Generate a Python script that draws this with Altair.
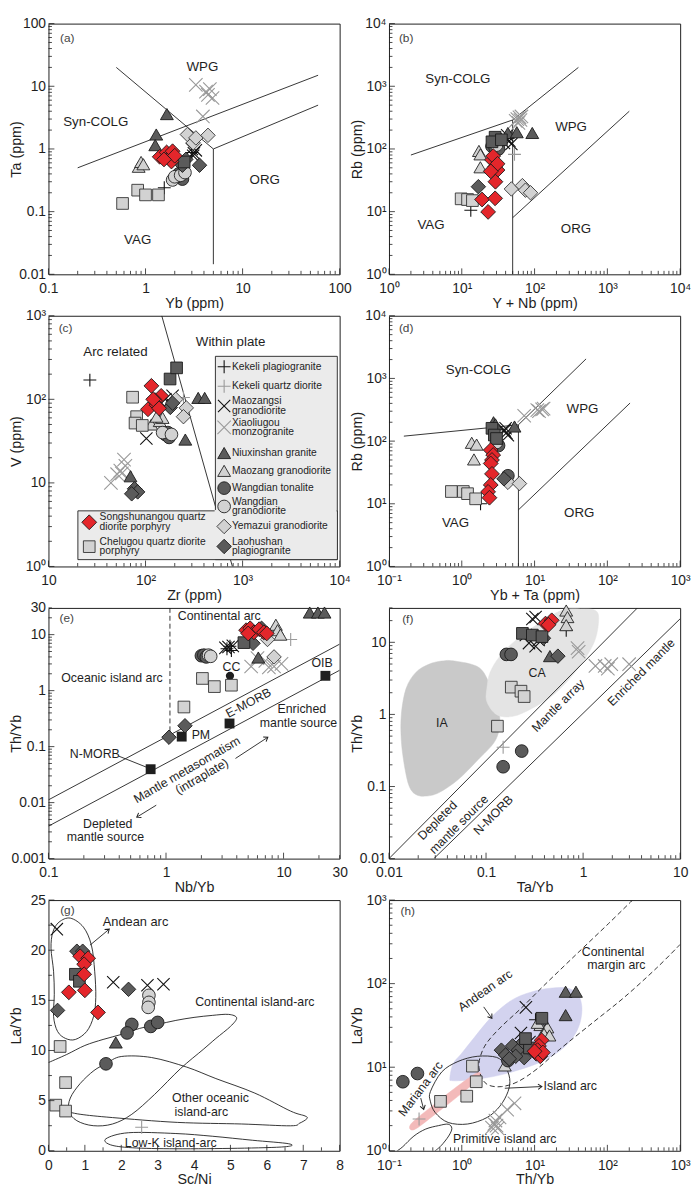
import math
import altair as alt
import pandas as pd

W, H = 295, 254
FONT = "Liberation Sans"
INK = "#1e1e1e"

# ---------------------------------------------------------------- symbol styles
PLUS = "M-1,0L1,0M0,-1L0,1"
TIMES = "M-1,-1L1,1M-1,1L1,-1"
CHEV = "M-1,-0.7L0,0L-1,0.7"
DARK, LIGHT, RED = "#5b5b5b", "#d2d2d2", "#e4262b"
# shape, fill, stroke, size, strokeWidth
STYLE = {
    "KP": (PLUS, "transparent", "#111111", 170, 1.1),
    "KQ": (PLUS, "transparent", "#9a9a9a", 170, 1.1),
    "MZS": (TIMES, "transparent", "#111111", 155, 1.1),
    "XLG": (TIMES, "transparent", "#999999", 185, 1.1),
    "NXS": ("triangle-up", DARK, "#1a1a1a", 170, 0.9),
    "MZ": ("triangle-up", LIGHT, "#222222", 170, 0.9),
    "WT": ("circle", DARK, "#1a1a1a", 165, 0.9),
    "WG": ("circle", LIGHT, "#222222", 165, 0.9),
    "YMZ": ("diamond", LIGHT, "#333333", 215, 0.9),
    "LHS": ("diamond", DARK, "#1a1a1a", 215, 0.9),
    "DSQ": ("square", DARK, "#1a1a1a", 140, 0.9),
    "CLG": ("square", LIGHT, "#333333", 140, 0.9),
    "SSN": ("diamond", RED, "#1a1a1a", 225, 0.9),
}
DRAW_ORDER = ["KP", "KQ", "MZS", "XLG", "NXS", "MZ", "WT", "WG", "YMZ", "LHS", "DSQ", "CLG", "SSN"]

# ---------------------------------------------------------------- (a) Ta vs Yb
A_PTS = {
    "KP": [(1.56, 0.24), (3.0, 0.88)],
    "MZS": [(3.0, 1.0), (3.15, 0.85), (3.3, 0.95), (3.1, 0.78)],
    "XLG": [(3.3, 10.5), (4.2, 8.2), (4.6, 9.0), (4.9, 6.5), (4.4, 7.3), (3.9, 3.3)],
    "NXS": [(1.66, 3.6), (1.29, 1.7), (1.26, 1.15)],
    "MZ": [(0.85, 0.52), (0.9, 0.62), (0.95, 0.57)],
    "WT": [(2.2, 0.40), (2.4, 0.33), (2.1, 0.36)],
    "WG": [(1.9, 0.32), (2.0, 0.36), (2.3, 0.38), (2.55, 0.42)],
    "YMZ": [(2.7, 1.7), (3.1, 1.25), (3.3, 1.5), (4.4, 1.65)],
    "LHS": [(2.4, 0.55), (3.6, 0.55), (2.6, 0.68)],
    "DSQ": [(2.5, 0.62)],
    "CLG": [(0.58, 0.135), (0.83, 0.22), (1.0, 0.185), (1.36, 0.185)],
    "SSN": [(1.4, 0.75), (1.65, 0.88), (1.75, 0.7), (1.85, 0.63), (1.9, 0.92), (2.0, 0.78), (1.55, 0.68)],
}
A_LINES = [[(0.5, 20), (5, 1)], [(5, 1), (5, 0.0145)], [(0.2, 0.5), (60, 15)], [(5, 1), (60, 5)]]
A_TEXT = [(3.86, 20, "WPG"), (0.307, 2.66, "Syn-COLG"), (16.9, 0.32, "ORG"), (0.83, 0.035, "VAG")]
A_TAG = [(0.156, 59, "(a)")]

# ---------------------------------------------------------------- (b) Rb vs Y+Nb
B_PTS = {
    "KP": [(13.3, 10.5)],
    "KQ": [(53, 82)],
    "MZS": [(40, 150), (45, 135), (48, 120), (42, 165), (38, 125)],
    "XLG": [(55, 280), (58, 300), (62, 320), (66, 330), (60, 260), (64, 290)],
    "NXS": [(43, 180), (57, 185), (93, 180)],
    "MZ": [(17.2, 93), (18, 82), (18, 51)],
    "WT": [(26, 110), (28.7, 105), (32, 100)],
    "WG": [(30, 115)],
    "YMZ": [(48, 23), (68, 26), (75, 22), (88, 20)],
    "LHS": [(16.9, 25)],
    "DSQ": [(28.7, 154), (26, 130), (35, 140)],
    "CLG": [(9.8, 16), (12, 15.6), (14, 15)],
    "SSN": [(26, 67), (28.7, 52), (31, 46), (27, 77), (31, 58), (29, 30), (19, 15.6), (28.7, 16.3), (23, 9.9), (25, 44)],
}
B_LINES = [[(2, 80), (50, 290), (400, 2000)], [(50, 1), (50, 290)], [(50, 8), (2000, 400)]]
B_TEXT = [(8.85, 1285, "Syn-COLG"), (317, 220, "WPG"), (3.78, 6.2, "VAG"), (370, 5.2, "ORG")]
B_TAG = [(1.72, 5900, "(b)")]

# ---------------------------------------------------------------- (c) V vs Zr
C_PTS = {
    "KP": [(26.7, 170)],
    "KQ": [(246, 105)],
    "MZS": [(102, 34), (160, 100), (175, 95), (190, 110)],
    "XLG": [(44, 10), (60, 19), (55, 14), (62, 16), (51, 12.7), (57, 13)],
    "NXS": [(349, 104), (407, 104), (257, 33), (70, 12)],
    "MZ": [(115, 50), (140, 55), (150, 60), (130, 62)],
    "WT": [(160, 38), (175, 35), (170, 40)],
    "WG": [(150, 40), (185, 38)],
    "YMZ": [(263, 79), (246, 62), (205, 100)],
    "LHS": [(77, 8.5), (83, 7.8), (72, 7.4), (180, 80), (190, 90)],
    "DSQ": [(179, 175), (209, 238)],
    "CLG": [(73.6, 106), (81, 62), (78, 52), (92.6, 48.7)],
    "SSN": [(115, 145), (145, 110), (106, 76), (130, 85), (125, 98), (138, 78), (120, 100)],
}
C_LINES = [[(147, 1000), (785, 1)]]
C_TEXT = [(49, 366, "Arc related"), (753, 479, "Within plate")]
C_TAG = [(15, 718, "(c)")]
# legend entries: series, symbol y, [(line text, y)]  (reference-pixel layout inside panel c)
LEG_RIGHT = [
    ("KP", 52.3, [("Kekeli plagiogranite", 52.3)]),
    ("KQ", 72.3, [("Kekeli quartz diorite", 72.3)]),
    ("MZS", 92.5, [("Maozangsi", 87.5), ("granodiorite", 97.5)]),
    ("XLG", 114.5, [("Xiaoliugou", 109.5), ("monzogranite", 119.5)]),
    ("NXS", 140.7, [("Niuxinshan granite", 140.7)]),
    ("MZ", 159.0, [("Maozang granodiorite", 159.0)]),
    ("WT", 176.7, [("Wangdian tonalite", 176.7)]),
    ("WG", 195.5, [("Wangdian", 190.5), ("granodiorite", 200.5)]),
    ("YMZ", 216.0, [("Yemazui granodiorite", 216.0)]),
    ("LHS", 236.5, [("Laohushan", 231.5), ("plagiogranite", 241.5)]),
]
LEG_LEFT = [
    ("SSN", 211.7, [("Songshunangou quartz", 206.7), ("diorite porphyry", 216.7)]),
    ("CLG", 236.7, [("Chelugou quartz diorite", 231.7), ("porphyry", 241.7)]),
]

# ---------------------------------------------------------------- (d) Rb vs Yb+Ta
D_PTS = {
    "KP": [(1.81, 10)],
    "MZS": [(3.9, 148), (4.1, 135), (4.3, 124), (4.0, 160)],
    "XLG": [(7.2, 254), (10.9, 312), (12.7, 320), (13.3, 330), (11.5, 300)],
    "NXS": [(2.73, 200), (5.3, 171), (2.9, 185)],
    "MZ": [(1.37, 94), (1.6, 88), (1.47, 51)],
    "WT": [(3.2, 85), (4.3, 28)],
    "WG": [(3.0, 95)],
    "YMZ": [(4.3, 22), (6.2, 21)],
    "LHS": [(3.8, 25)],
    "DSQ": [(2.6, 160), (2.8, 125), (3.0, 110)],
    "CLG": [(0.72, 15.7), (1.05, 15.7), (1.2, 14.5), (1.55, 12)],
    "SSN": [(2.5, 72), (2.7, 60), (2.6, 50), (2.5, 44), (2.6, 30), (2.5, 20), (2.3, 15.5), (2.4, 12.5)],
}
D_LINES = [[(0.16, 120), (6, 182), (51, 2050)], [(6, 1), (6, 182)], [(6, 8), (205, 405)]]
D_TEXT = [(1.69, 1350, "Syn-COLG"), (45.5, 324, "WPG"), (0.82, 4.9, "VAG"), (41, 7, "ORG")]
D_TAG = [(0.172, 6400, "(d)")]

# ---------------------------------------------------------------- (e) Th/Yb vs Nb/Yb
E_PTS = {
    "KP": [(3.3, 5.6), (3.5, 6.2), (3.6, 5.2)],
    "KQ": [(11.5, 8.2)],
    "MZS": [(3.2, 5.8), (3.4, 6.0), (3.7, 6.3)],
    "XLG": [(5.3, 2.7), (6.0, 3.8), (7.5, 2.6), (8.3, 2.7), (9.6, 3.0), (7.0, 3.4)],
    "NXS": [(16.7, 24.8), (19.6, 24.8), (22.3, 24.8), (6.1, 3.9)],
    "MZ": [(8.6, 15), (8.9, 12), (9.4, 10)],
    "WT": [(2.0, 4.2), (2.1, 4.3), (2.2, 4.0)],
    "WG": [(2.3, 4.3), (2.4, 4.1)],
    "YMZ": [(7.3, 8.2), (8.3, 4.0)],
    "LHS": [(1.45, 0.236), (1.06, 0.147), (6.5, 13), (5.5, 7.0)],
    "DSQ": [(4.6, 7.2)],
    "CLG": [(2.04, 1.65), (2.58, 1.18), (3.6, 1.25), (1.42, 0.51)],
    "SSN": [(4.8, 12), (5.2, 13), (5.6, 11), (6.2, 12.5), (6.8, 11), (7.2, 10.5), (5.0, 10.5)],
}
E_REF_SQ = [(0.74, 0.0395), (1.36, 0.151), (3.47, 0.259), (22.7, 1.84)]
E_REF_CC = [(3.5, 1.84)]
E_LINES = [[(0.1, 0.0112), (30, 6.76)], [(0.1, 0.0038), (30, 2.31)], [(0.394, 0.068), (0.7, 0.042)]]
E_DASH = [[(1.08, 30), (1.08, 0.163)]]
E_ARROWS = [((0.826, 0.009), (0.564, 0.0055), 148), ((3.9, 0.0615), (7.35, 0.147), 327)]
E_TEXT = [(2.84, 21.7, "Continental arc", 0), (0.347, 1.7, "Oceanic island arc", 0),
          (3.6, 2.64, "CC", 0), (1.98, 0.158, "PM", 0), (21.3, 3.14, "OIB", 0),
          (5.02, 0.6, "E-MORB", 332), (14.3, 0.46, "Enriched", 0), (13.4, 0.26, "mantle source", 0),
          (0.248, 0.075, "N-MORB", 0), (0.319, 0.0042, "Depleted", 0), (0.305, 0.00245, "mantle source", 0),
          (1.51, 0.0385, "Mantle metasomatism", 330), (2.02, 0.0294, "(intraplate)", 330)]
E_TAG = [(0.143, 19.8, "(e)")]

# ---------------------------------------------------------------- (f) Th/Yb vs Ta/Yb
F_PTS = {
    "KP": [(0.67, 14.7)],
    "KQ": [(0.15, 0.35)],
    "MZS": [(0.324, 22.4), (0.257, 12.6), (0.277, 9.75), (0.324, 8.8), (0.349, 10.8), (0.3, 21)],
    "XLG": [(0.877, 8.3), (0.9, 7.4), (1.34, 4.7), (1.67, 4.7), (1.95, 4.97), (2.98, 4.97), (1.8, 4.3)],
    "NXS": [(0.455, 6.43)],
    "MZ": [(0.67, 27.6), (0.69, 22.4), (0.67, 17.3)],
    "WT": [(0.162, 6.8), (0.181, 6.8), (0.233, 0.31), (0.15, 0.188)],
    "LHS": [(0.55, 6.43), (0.39, 11.4)],
    "DSQ": [(0.237, 13.3), (0.3, 12.6), (0.377, 12)],
    "CLG": [(0.182, 2.39), (0.229, 2.1), (0.247, 1.77), (0.131, 0.687)],
    "SSN": [(0.41, 18.2), (0.475, 20.2), (0.44, 17.5)],
}
F_LINES = [[(0.01, 0.01), (3.63, 30)], [(0.029, 0.01), (10, 21.2)]]
F_IA = [(0.0475, 5.5), (0.0845, 4.47), (0.11, 2.52), (0.129, 1.35), (0.139, 0.80), (0.124, 0.43),
        (0.0813, 0.23), (0.0513, 0.124), (0.0324, 0.0817), (0.0238, 0.0736), (0.0189, 0.0776),
        (0.0162, 0.1), (0.0145, 0.187), (0.0134, 0.43), (0.0134, 0.99), (0.015, 2.28),
        (0.0189, 3.82), (0.0257, 4.95), (0.0349, 5.5)]
F_CA = [(0.102, 1.5), (0.129, 0.99), (0.189, 0.94), (0.3, 1.22), (0.513, 1.95), (0.877, 4.25),
        (1.29, 9.75), (1.445, 20.2), (1.34, 27.6), (0.948, 29), (0.598, 27.6), (0.349, 18.2),
        (0.204, 10.8), (0.139, 6.43), (0.11, 3.82), (0.102, 2.28)]
F_TEXT = [(0.035, 0.76, "IA", 0), (0.336, 3.7, "CA", 0), (0.553, 1.32, "Mantle array", 315),
          (3.98, 3.82, "Enriched mantle", 315), (0.0316, 0.0337, "Depleted", 315),
          (0.0525, 0.0298, "mantle source", 315), (0.119, 0.04, "N-MORB", 315)]
F_TAG = [(0.0156, 21.2, "(f)")]

# ---------------------------------------------------------------- (g) La/Yb vs Sc/Ni
G_PTS = {
    "KQ": [(2.56, 2.34)],
    "MZS": [(0.23, 22.1), (1.78, 16.8), (2.72, 16.5), (3.16, 16.6)],
    "NXS": [(1.85, 10.8)],
    "WT": [(2.29, 12.6), (2.16, 11.75), (2.81, 12.4), (3.0, 12.8), (1.58, 8.67)],
    "WG": [(2.76, 15.5), (2.76, 14.8), (2.74, 14.3)],
    "LHS": [(0.78, 19.9), (0.94, 19.9), (0.25, 14.0), (2.2, 16.1)],
    "DSQ": [(0.74, 17.6), (0.85, 16.9)],
    "CLG": [(0.32, 10.4), (0.47, 6.8), (0.2, 4.55), (0.47, 3.96)],
    "SSN": [(0.87, 19.4), (1.09, 19.2), (0.98, 18.6), (0.98, 17.6), (1.0, 16.0), (0.56, 15.8), (1.36, 13.8)],
}
G_ANDEAN = [(0.60, 23.2), (0.96, 22.3), (1.18, 20.5), (1.27, 17.9), (1.30, 15.3), (1.24, 13.4),
            (1.05, 11.9), (0.74, 11.1), (0.47, 11.2), (0.25, 11.9), (0.14, 13.4), (0.16, 15.6),
            (0.14, 17.9), (0.07, 20.2), (0.12, 21.8), (0.29, 22.8)]
G_ARCS = [(0, 8.8), (0.5, 9.6), (1.0, 10.5), (1.5, 11.1), (2.0, 11.6), (2.5, 12.2), (3.0, 12.6),
          (3.5, 13.0), (4.0, 13.3), (4.5, 13.5), (4.95, 13.6), (5.17, 13.25), (5.0, 12.4),
          (4.6, 11.2), (4.25, 10.1), (3.63, 8.2), (2.91, 5.6), (2.29, 3.64), (1.76, 2.67),
          (1.23, 2.5), (0.78, 3.0), (0.56, 3.96), (0.6, 5.26), (0.87, 6.7), (1.25, 8.0),
          (1.58, 8.67), (2.0, 9.4), (2.83, 9.3), (3.8, 8.34), (4.6, 7.2), (5.67, 5.75),
          (6.65, 3.96), (7.05, 3.47), (7.1, 3.2), (6.9, 2.75), (6.65, 2.49), (5.31, 2.67),
          (3.54, 2.83), (1.76, 3.31), (0.87, 3.64), (0.47, 3.96)]
G_LOWK = [(1.58, 1.2), (2.2, 1.8), (3.5, 1.72), (4.5, 1.45), (5.6, 1.05), (6.6, 0.7),
          (6.5, 0.4), (5.2, 0.25), (3.5, 0.2), (2.3, 0.3), (1.7, 0.6)]
G_ARROWS = [((1.14, 20.5), (1.67, 22.1), 320)]
G_TEXT_L = [(1.49, 22.8, "Andean arc", 0)]
G_TEXT = [(5.67, 14.8, "Continental island-arc", 0), (4.45, 5.25, "Other oceanic", 0),
          (4.2, 3.9, "island-arc", 0), (3.36, 0.78, "Low-K island-arc", 0)]
G_TAG = [(0.52, 24.0, "(g)")]

# ---------------------------------------------------------------- (h) La/Yb vs Th/Yb
H_PTS = {
    "KP": [(10.3, 37)],
    "KQ": [(0.259, 2.4)],
    "MZS": [(7.6, 52), (6.5, 25.7), (8.5, 20)],
    "XLG": [(2.6, 1.9), (2.8, 2.1), (3.0, 2.0), (2.9, 2.3), (3.3, 2.5), (4.2, 3.1), (5.3, 3.7), (3.1, 1.85)],
    "NXS": [(26.7, 80), (37, 80), (26.7, 42)],
    "MZ": [(3.9, 10.5), (12, 32), (14, 28), (15, 30), (13.5, 25), (16, 24), (11, 34)],
    "WT": [(0.155, 6.7), (0.246, 8.4), (4.3, 12)],
    "LHS": [(3.5, 16), (4.0, 14), (5, 18), (6, 16), (7.2, 13), (5.5, 13.5), (4.5, 12.6), (7, 20)],
    "DSQ": [(12.6, 38.5), (8.5, 17), (7.5, 22)],
    "CLG": [(0.51, 3.9), (1.17, 4.5), (1.58, 6.7), (1.4, 10.3)],
    "SSN": [(12.5, 21), (11.5, 18), (11, 16), (10.5, 14.5), (12, 13.5), (13, 15), (10, 15.5)],
}
H_ANDEAN = [(0.686, 7.33), (0.759, 11), (0.98, 14.4), (1.475, 22.5), (2.59, 40.3), (4.79, 63),
            (8.85, 79), (16.3, 88), (27.3, 88.7), (39, 75.5), (44.6, 52.7), (41.9, 33.6),
            (33.4, 22.5), (22.2, 15.7), (12, 11.5), (5.87, 9.2), (2.59, 7.67), (1.14, 7.0), (0.743, 6.9)]
H_MARIANA = [(0.2, 2.09), (0.39, 3.42), (0.8, 5.6), (1.63, 8.6), (1.72, 7.33), (0.885, 4.48),
             (0.432, 2.74), (0.222, 1.79)]
H_ISLAND = [(0.371, 5.12), (0.53, 8.77), (0.885, 11.7), (1.63, 13.5), (3.02, 13.1), (3.9, 10.5),
            (4.55, 7.33), (4.32, 5.12), (3.34, 3.42), (2.22, 2.5), (1.2, 2.09), (0.65, 2.18),
            (0.432, 2.86), (0.37, 3.92)]
H_PRIM = [(0.13, 1.0), (0.155, 1.12), (0.22, 1.5), (0.32, 1.82), (0.48, 2.0), (0.65, 2.08),
          (0.73, 1.85), (0.66, 1.5), (0.52, 1.15), (0.43, 1.0)]
H_CMA = [(1000, 295), (479, 155), (172, 69), (61.8, 33.7), (22.2, 16.4), (10.9, 9.6), (5.87, 6.7),
         (3.52, 5.86), (2.34, 6.1), (1.9, 7.33), (1.72, 10), (1.81, 13.7), (2.22, 19.7),
         (3.52, 30.8), (6.5, 50.5), (13.3, 94), (37, 222), (103, 520), (222, 1000)]
H_ARROWS = [((2.0, 52.7), (2.59, 38.5), 55), ((0.273, 4.27), (0.3, 3.13), 74),
            ((3.9, 5.6), (12.6, 5.87), 357)]
H_TEXT_L = [(44.6, 240, "Continental", 0), (53, 165, "margin arc", 0), (13.3, 5.87, "Island arc", 0)]
H_TEXT = [(3.9, 1.39, "Primitive island arc", 0), (2.1, 82.6, "Andean arc", 325),
          (0.273, 5.5, "Mariana arc", 307)]
H_TAG = [(0.181, 740, "(h)")]

# ---------------------------------------------------------------- axis label sets
SUP = {-1: "\u207b\u00b9", 0: "\u2070", 1: "\u00b9", 2: "\u00b2", 3: "\u00b3", 4: "\u2074"}


def pow_labels(exps):
    return ["10" + SUP[e] for e in exps]


def lab_expr(vals, labs):
    expr = "'" + labs[-1] + "'"
    for i in range(len(vals) - 2, -1, -1):
        thr = (vals[i] + vals[i + 1]) / 2.0
        expr = f"datum.value < {thr} ? '{labs[i]}' : ({expr})"
    return expr


def log_ticks(lo, hi):
    maj, mnr = [], []
    for e in range(math.floor(math.log10(lo)) - 1, math.ceil(math.log10(hi)) + 1):
        for m in range(1, 10):
            v = m * 10.0 ** e
            if lo * 0.999 <= v <= hi * 1.001:
                (maj if m == 1 else mnr).append(v)
    return maj, mnr


def axis(title, vals, labs, orient):
    kw = dict(title=title, values=vals, ticks=False, domain=False, grid=False,
              labelFont=FONT, titleFont=FONT, labelFontSize=14, titleFontSize=14.5,
              labelColor=INK, titleColor=INK, titleFontWeight="normal",
              labelFlush=False, labelOverlap=False)
    if labs is not None:
        kw["labelExpr"] = lab_expr(vals, labs)
    if orient == "y":
        kw.update(labelPadding=3, titleX=-32, titleY=H / 2, titleAngle=270, titleBaseline="middle",
                  titleAlign="center")
    else:
        kw.update(labelPadding=7.5, titlePadding=1)
    return alt.Axis(**kw)


class Panel:
    def __init__(self, xtype, xdom, xaxis, ytype, ydom, yaxis):
        def sc(t, d):
            if t == "log":
                return alt.Scale(type="log", domain=d, nice=False)
            return alt.Scale(type="linear", domain=d, nice=False, zero=False)
        self.xs, self.ys = sc(xtype, xdom), sc(ytype, ydom)
        self.xa, self.ya = xaxis, yaxis

    def X(self, f):
        return alt.X(f, type="quantitative", scale=self.xs, axis=self.xa)

    def Y(self, f):
        return alt.Y(f, type="quantitative", scale=self.ys, axis=self.ya)


def paths_layer(P, paths, color=INK, width=0.9, dash=None, interp="linear", fill=None):
    rows = []
    for g, path in enumerate(paths):
        for o, (x, y) in enumerate(path):
            rows.append(dict(x=x, y=y, g=g, o=o))
    kw = dict(color=color, strokeWidth=width, interpolate=interp, clip=True)
    if dash:
        kw["strokeDash"] = dash
    if fill:
        kw["fill"] = fill
    return alt.Chart(pd.DataFrame(rows)).mark_line(**kw).encode(
        x=P.X("x"), y=P.Y("y"), detail="g:N", order="o:Q")


def points_layer(P, pts):
    rows = []
    for s in DRAW_ORDER:
        sh, fi, st, sz, sw = STYLE[s]
        for (x, y) in pts.get(s, []):
            rows.append(dict(x=x, y=y, sh=sh, fi=fi, st=st, sz=sz, sw=sw))
    return alt.Chart(pd.DataFrame(rows)).mark_point(filled=True, opacity=1).encode(
        x=P.X("x"), y=P.Y("y"),
        shape=alt.Shape("sh:N", scale=None), fill=alt.Fill("fi:N", scale=None),
        stroke=alt.Stroke("st:N", scale=None), size=alt.Size("sz:Q", scale=None),
        strokeWidth=alt.StrokeWidth("sw:Q", scale=None))


def simple_points(P, pts, shape, size, color=INK):
    df = pd.DataFrame(pts, columns=["x", "y"])
    return alt.Chart(df).mark_point(shape=shape, filled=True, opacity=1, size=size, color=color).encode(
        x=P.X("x"), y=P.Y("y"))


def text_layer(P, rows, size=12.5, align="center", color=INK):
    rows = [r if len(r) == 4 else (r[0], r[1], r[2], 0) for r in rows]
    df = pd.DataFrame(rows, columns=["x", "y", "t", "a"])
    return alt.Chart(df).mark_text(font=FONT, fontSize=size, align=align, baseline="middle", color=color).encode(
        x=P.X("x"), y=P.Y("y"), text="t:N", angle=alt.Angle("a:Q", scale=None))


def arrow_layers(P, arrows):
    line = paths_layer(P, [[a[0], a[1]] for a in arrows], width=0.9)
    heads = pd.DataFrame([dict(x=a[1][0], y=a[1][1], a=a[2]) for a in arrows])
    head = alt.Chart(heads).mark_point(shape=CHEV, filled=False, size=60, strokeWidth=1,
                                       color=INK, opacity=1).encode(
        x=P.X("x"), y=P.Y("y"), angle=alt.Angle("a:Q", scale=None))
    return [line, head]


def tick_layers(P, xmaj, xmin, ymaj, ymin):
    out = []
    for vals, L in ((xmaj, 6), (xmin, 3.5)):
        if vals:
            out.append(alt.Chart(pd.DataFrame({"x": vals})).mark_rule(color=INK, strokeWidth=0.8).encode(
                x=P.X("x"), y=alt.value(H), y2=alt.value(H - L)))
    for vals, L in ((ymaj, 6), (ymin, 3.5)):
        if vals:
            out.append(alt.Chart(pd.DataFrame({"y": vals})).mark_rule(color=INK, strokeWidth=0.8).encode(
                y=P.Y("y"), x=alt.value(0), x2=alt.value(L)))
    return out


def log_panel(xdom, xvals, xlabs, xtitle, ydom, yvals, ylabs, ytitle):
    P = Panel("log", xdom, axis(xtitle, xvals, xlabs, "x"), "log", ydom, axis(ytitle, yvals, ylabs, "y"))
    xt = log_ticks(*xdom)
    yt = log_ticks(*ydom)
    return P, tick_layers(P, xt[0], xt[1], yt[0], yt[1])


def legend_layers():
    sx, sy = W / 300.0, H / 257.0
    dummy = pd.DataFrame({"a": [0]})
    L = []

    def rect(x1, y1, x2, y2, stroke=True):
        kw = dict(fill="#ebebeb")
        if stroke:
            kw.update(stroke=INK, strokeWidth=0.9)
        return alt.Chart(dummy).mark_rect(**kw).encode(
            x=alt.value(x1 * sx), x2=alt.value(x2 * sx), y=alt.value(y1 * sy), y2=alt.value(y2 * sy))

    L.append(rect(172, 41.6, 297.6, 250))
    L.append(rect(30.3, 200, 297.6, 250))
    L.append(rect(171.2, 199.2, 296.8, 249.2, stroke=False))
    for entries, xs, xt in ((LEG_RIGHT, 181, 189), (LEG_LEFT, 42, 52.7)):
        for s, ys, lines in entries:
            sh, fi, st, sz, sw = STYLE[s]
            L.append(alt.Chart(dummy).mark_point(shape=sh, fill=fi, stroke=st, size=sz, strokeWidth=sw,
                                                 filled=True, opacity=1).encode(
                x=alt.value(xs * sx), y=alt.value(ys * sy)))
            for t, yt in lines:
                L.append(alt.Chart(dummy).mark_text(text=t, font=FONT, fontSize=10.4, align="left",
                                                    baseline="middle", color=INK).encode(
                    x=alt.value(xt * sx), y=alt.value(yt * sy)))
    return L


def tag(P, rows):
    return text_layer(P, rows, size=12, color="#444444")


# ---------------------------------------------------------------- panels
def panel_a():
    P, ticks = log_panel([0.1, 100], [0.1, 1, 10, 100], ["0.1", "1", "10", "100"], "Yb (ppm)",
                         [0.01, 100], [0.01, 0.1, 1, 10, 100], ["0.01", "0.1", "1", "10", "100"], "Ta (ppm)")
    layers = [paths_layer(P, A_LINES), text_layer(P, A_TEXT, size=13.5), tag(P, A_TAG), points_layer(P, A_PTS)] + ticks
    return alt.layer(*layers).properties(width=W, height=H)


def panel_b():
    v = [1, 10, 100, 1000, 10000]
    P, ticks = log_panel([1, 10000], v, pow_labels([0, 1, 2, 3, 4]), "Y + Nb (ppm)",
                         [1, 10000], v, pow_labels([0, 1, 2, 3, 4]), "Rb (ppm)")
    layers = [paths_layer(P, B_LINES), text_layer(P, B_TEXT, size=13.5), tag(P, B_TAG), points_layer(P, B_PTS)] + ticks
    return alt.layer(*layers).properties(width=W, height=H)


def panel_c():
    P, ticks = log_panel([10, 10000], [10, 100, 1000, 10000], ["10"] + pow_labels([2, 3, 4]), "Zr (ppm)",
                         [1, 1000], [1, 10, 100, 1000], [pow_labels([0])[0], "10"] + pow_labels([2, 3]), "V (ppm)")
    layers = [paths_layer(P, C_LINES), text_layer(P, C_TEXT, size=13.5), tag(P, C_TAG),
              points_layer(P, C_PTS)] + ticks + legend_layers()
    return alt.layer(*layers).properties(width=W, height=H)


def panel_d():
    P, ticks = log_panel([0.1, 1000], [0.1, 1, 10, 100, 1000], pow_labels([-1, 0, 1, 2, 3]), "Yb + Ta (ppm)",
                         [1, 10000], [1, 10, 100, 1000, 10000], pow_labels([0, 1, 2, 3, 4]), "Rb (ppm)")
    layers = [paths_layer(P, D_LINES), text_layer(P, D_TEXT, size=13.5), tag(P, D_TAG), points_layer(P, D_PTS)] + ticks
    return alt.layer(*layers).properties(width=W, height=H)


def panel_e():
    P, ticks = log_panel([0.1, 30], [0.1, 1, 10, 30], ["0.1", "1", "10", "30"], "Nb/Yb",
                         [0.001, 30], [0.001, 0.01, 0.1, 1, 10, 30], ["0.001", "0.01", "0.1", "1", "10", "30"], "Th/Yb")
    layers = [paths_layer(P, E_LINES), paths_layer(P, E_DASH, dash=[5, 3])] + arrow_layers(P, E_ARROWS) + [
        text_layer(P, E_TEXT, size=12.5), tag(P, E_TAG),
        simple_points(P, E_REF_SQ, "square", 100), simple_points(P, E_REF_CC, "circle", 70),
        points_layer(P, E_PTS)] + ticks
    return alt.layer(*layers).properties(width=W, height=H)


def panel_f():
    P, ticks = log_panel([0.01, 10], [0.01, 0.1, 1, 10], ["0.01", "0.1", "1", "10"], "Ta/Yb",
                         [0.01, 30], [0.01, 0.1, 1, 10], ["0.01", "0.1", "1", "10"], "Th/Yb")
    layers = [paths_layer(P, [F_IA], color="#c9c9c9", width=0.5, interp="cardinal-closed", fill="#c9c9c9"),
              paths_layer(P, [F_CA], color="#e4e4e4", width=0.5, interp="cardinal-closed", fill="#e4e4e4"),
              paths_layer(P, F_LINES), text_layer(P, F_TEXT, size=12.5), tag(P, F_TAG),
              points_layer(P, F_PTS)] + ticks
    return alt.layer(*layers).properties(width=W, height=H)


def panel_g():
    P = Panel("linear", [0, 8], axis("Sc/Ni", list(range(0, 9)), None, "x"),
              "linear", [0, 25], axis("La/Yb", [0, 5, 10, 15, 20, 25], None, "y"))
    ticks = tick_layers(P, list(range(0, 9)), [i + 0.5 for i in range(8)],
                        [0, 5, 10, 15, 20, 25], [2.5, 7.5, 12.5, 17.5, 22.5])
    layers = [paths_layer(P, [G_ANDEAN, G_LOWK], interp="cardinal-closed"),
              paths_layer(P, [G_ARCS], interp="cardinal")] + arrow_layers(P, G_ARROWS) + [
        text_layer(P, G_TEXT_L, size=13, align="left"), text_layer(P, G_TEXT, size=12.5), tag(P, G_TAG),
        points_layer(P, G_PTS)] + ticks
    return alt.layer(*layers).properties(width=W, height=H)


def panel_h():
    P, ticks = log_panel([0.1, 1000], [0.1, 1, 10, 100, 1000], pow_labels([-1, 0, 1, 2, 3]), "Th/Yb",
                         [1, 1000], [1, 10, 100, 1000], pow_labels([0, 1, 2, 3]), "La/Yb")
    layers = [paths_layer(P, [H_ANDEAN], color="#d3d3ef", width=0.5, interp="cardinal-closed", fill="#d3d3ef"),
              paths_layer(P, [H_MARIANA], color="#f3baba", width=0.5, interp="cardinal-closed", fill="#f3baba"),
              paths_layer(P, [H_ISLAND], interp="cardinal-closed"),
              paths_layer(P, [H_PRIM], interp="cardinal"),
              paths_layer(P, [H_CMA], interp="cardinal", dash=[5, 3])] + arrow_layers(P, H_ARROWS) + [
        text_layer(P, H_TEXT_L, size=12.5, align="left"), text_layer(P, H_TEXT, size=12.5), tag(P, H_TAG),
        points_layer(P, H_PTS)] + ticks
    return alt.layer(*layers).properties(width=W, height=H)


chart = alt.concat(panel_a(), panel_b(), panel_c(), panel_d(), panel_e(), panel_f(), panel_g(), panel_h(),
                   columns=2, spacing={"row": 42, "column": 50}, bounds="flush").properties(
    padding={"left": 0, "top": 0, "right": 0, "bottom": 0}, background="white")
chart = chart.configure_view(stroke=INK, strokeWidth=1)
chart.save("out.html", embed_options={"renderer": "svg", "actions": False})
